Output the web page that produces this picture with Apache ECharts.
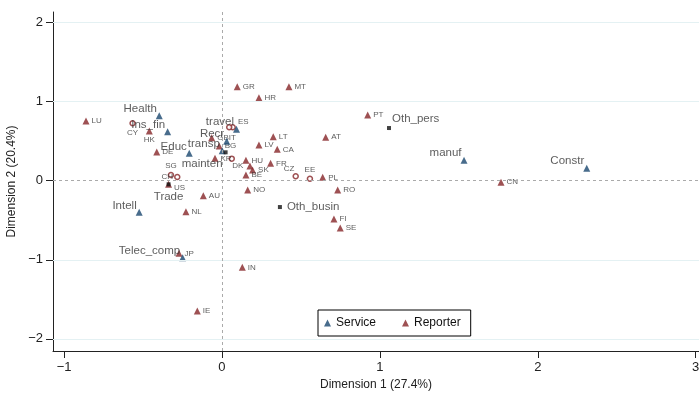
<!DOCTYPE html>
<html>
<head>
<meta charset="utf-8">
<script src="https://cdn.jsdelivr.net/npm/echarts@6/dist/echarts.min.js"></script>
<style>
  html, body { margin: 0; padding: 0; background: #fff; }
  #chart { width: 699px; height: 394px; }
</style>
</head>
<body>
<div id="chart"></div>
<script>
// service categories (navy triangles)
var serviceNames = ['Health', 'Ins_fin', 'Educ', 'travel', 'Recr', 'transp', 'Intell', 'Telec_comp', 'manuf', 'Constr'];
var serviceX = [-0.397, -0.344, -0.207, 0.092, 0.030, 0.002, -0.524, -0.249, 1.533, 2.310];
var serviceY = [0.822, 0.620, 0.346, 0.651, 0.498, 0.379, -0.400, -0.974, 0.258, 0.157];

// other service categories (black squares)
var otherNames = ['Oth_pers', 'Oth_busin', 'Trade', 'mainten'];
var otherX = [1.058, 0.367, -0.338, 0.023];
var otherY = [0.666, -0.333, -0.046, 0.359];

// reporters (maroon triangles)
var reporterNames = ['LU', 'HK', 'DE', 'GB', 'BG', 'KR', 'HU', 'DK', 'SK', 'BE', 'LV', 'LT', 'CA', 'FR', 'PL', 'AT',
  'GR', 'MT', 'HR', 'PT', 'NO', 'RO', 'AU', 'FI', 'SE', 'NL', 'JP', 'IN', 'IE', 'CN', 'US'];
var reporterX = [-0.861, -0.460, -0.413, -0.065, -0.017, -0.044, 0.152, 0.177, 0.194, 0.152, 0.234, 0.325, 0.350, 0.308, 0.638, 0.657,
  0.097, 0.424, 0.234, 0.923, 0.163, 0.733, -0.118, 0.709, 0.749, -0.228, -0.272, 0.129, -0.156, 1.767, -0.338];
var reporterY = [0.755, 0.628, 0.363, 0.544, 0.439, 0.283, 0.258, 0.186, 0.135, 0.072, 0.451, 0.556, 0.397, 0.220, 0.043, 0.549,
  1.189, 1.189, 1.050, 0.831, -0.118, -0.118, -0.190, -0.484, -0.598, -0.392, -0.918, -1.095, -1.648, -0.020, -0.046];

// reporters drawn as hollow circles
var ringNames = ['CY', 'SG', 'CH', 'ES', 'IT', '', 'CZ', 'EE'];
var ringX = [-0.566, -0.323, -0.283, 0.068, 0.046, 0.062, 0.467, 0.557];
var ringY = [0.726, 0.072, 0.047, 0.675, 0.675, 0.279, 0.056, 0.025];

var xTicks = [-1, 0, 1, 2, 3];
var yTicks = [-2, -1, 0, 1, 2];

var navy = '#1a476f';
var maroon = '#862528';
var font = 'Liberation Sans, Arial, sans-serif';

// label placement overrides
var labelPlace = {
  HK: { position: 'bottom', distance: 1 },
  CY: { position: 'bottom', distance: 2 },
  SG: { position: 'top', distance: 2 },
  CH: { position: 'left', distance: 1 },
  ES: { position: 'right', distance: 2, offset: [0, -6] },
  IT: { position: 'bottom', distance: 3, offset: [3, 0] },
  CZ: { position: 'left', distance: 0, offset: [2, -7] },
  EE: { position: 'top', distance: 2 },
  DK: { position: 'left', distance: 3 },
  US: { position: 'right', distance: 2, offset: [0, 3] },
  Oth_pers: { position: 'right', distance: 1, offset: [0, -9] },
  Oth_busin: { position: 'right', distance: 5 },
  Trade: { position: 'bottom', distance: 4 },
  mainten: { position: 'left', distance: 0, offset: [-1, 12] }
};

function points(names, xs, ys) {
  return names.map(function (n, i) {
    var d = { name: n, value: [xs[i], ys[i]] };
    if (labelPlace[n]) d.label = labelPlace[n];
    return d;
  });
}

var myChart = echarts.init(document.getElementById('chart'));
var option = {
  animation: false,
  textStyle: { fontFamily: font },
  grid: { left: 53, right: 0, top: 12, bottom: 43, containLabel: false, outerBoundsMode: 'none' },
  legend: {
    data: ['Service', 'Reporter'],
    left: 318,
    top: 310,
    icon: 'triangle',
    itemWidth: 7,
    itemHeight: 7,
    itemGap: 26,
    padding: [7, 10, 7, 6],
    borderColor: '#000',
    borderWidth: 1,
    backgroundColor: '#fff',
    textStyle: { fontSize: 12, color: '#111', fontFamily: font }
  },
  xAxis: {
    type: 'value',
    min: -1.070,
    max: 3.021,
    name: 'Dimension 1 (27.4%)',
    nameLocation: 'middle',
    nameGap: 28,
    nameTextStyle: { fontSize: 12, color: '#222' },
    axisLine: { show: true, onZero: false, lineStyle: { color: '#222', width: 1 } },
    axisTick: { show: true, length: 7, customValues: xTicks, lineStyle: { color: '#222' } },
    axisLabel: { fontSize: 13, color: '#222', margin: 10, customValues: xTicks,
      formatter: function (v) { return String(v).replace('-', '\u2212'); } },
    splitLine: { show: false }
  },
  yAxis: {
    type: 'value',
    min: -2.153,
    max: 2.133,
    name: 'Dimension 2 (20.4%)',
    nameLocation: 'middle',
    nameGap: 29,
    nameTextStyle: { fontSize: 12, color: '#222' },
    axisLine: { show: true, onZero: false, lineStyle: { color: '#222', width: 1 } },
    axisTick: { show: true, length: 7, customValues: yTicks, lineStyle: { color: '#222' } },
    axisLabel: { fontSize: 13, color: '#222', margin: 10, customValues: yTicks,
      formatter: function (v) { return String(v).replace('-', '\u2212'); } },
    splitLine: { show: false }
  },
  series: [{
    name: 'Service',
    type: 'scatter',
    symbol: 'triangle',
    symbolSize: 7,
    itemStyle: { color: navy },
    z: 4,
    label: {
      show: true,
      formatter: '{b}',
      position: 'left',
      distance: 0,
      offset: [1, -7],
      fontSize: 11.5,
      color: '#333'
    },
    data: points(serviceNames, serviceX, serviceY),
    markLine: {
      silent: true,
      symbol: 'none',
      label: { show: false },
      animation: false,
      data: yTicks.filter(function (v) { return v !== 0; }).map(function (v) {
        return { yAxis: v, lineStyle: { color: '#e4f1f3', width: 1, type: 'solid' } };
      }).concat([
        { yAxis: 0, lineStyle: { color: '#aaaaaa', width: 1, type: [3, 3] } },
        { xAxis: 0, lineStyle: { color: '#aaaaaa', width: 1, type: [3, 3] } }
      ])
    }
  }, {
    name: 'Reporter',
    type: 'scatter',
    symbol: 'triangle',
    symbolSize: 7,
    itemStyle: { color: maroon },
    z: 3,
    label: {
      show: true,
      formatter: '{b}',
      position: 'right',
      distance: 2,
      fontSize: 8,
      color: '#333'
    },
    data: points(reporterNames, reporterX, reporterY)
  }, {
    name: 'ring',
    type: 'scatter',
    symbol: 'circle',
    symbolSize: 5,
    itemStyle: { color: '#fff', borderColor: maroon, borderWidth: 1.5 },
    z: 3,
    label: {
      show: true,
      formatter: '{b}',
      position: 'right',
      distance: 2,
      fontSize: 8,
      color: '#333'
    },
    data: points(ringNames, ringX, ringY)
  }, {
    name: 'other',
    type: 'scatter',
    symbol: 'rect',
    symbolSize: 4,
    itemStyle: { color: '#111' },
    z: 5,
    label: {
      show: true,
      formatter: '{b}',
      position: 'right',
      fontSize: 11.5,
      color: '#333'
    },
    data: points(otherNames, otherX, otherY)
  }]
};
myChart.setOption(option);
window.addEventListener('resize', function () {
  myChart.resize();
});
</script>
</body>
</html>
